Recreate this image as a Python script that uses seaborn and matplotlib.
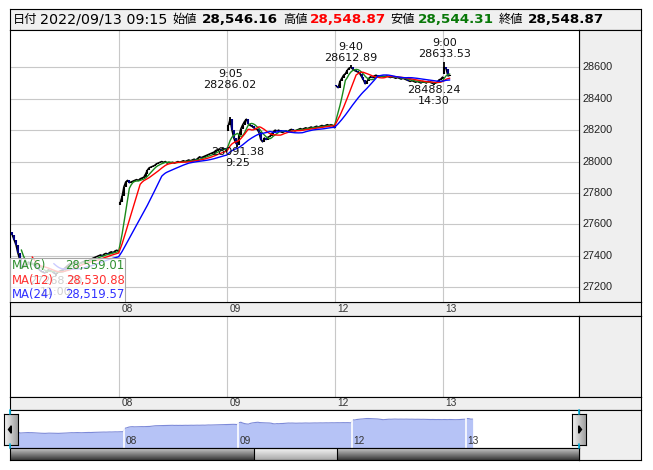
import numpy as np
import pandas as pd
import matplotlib
matplotlib.use("Agg")
import matplotlib.pyplot as plt
import seaborn as sns
from matplotlib.colors import LinearSegmentedColormap
from matplotlib.patches import Rectangle, Polygon
from matplotlib.lines import Line2D

# ---------------- data ----------------
day_labels = ["07", "08", "09", "12", "13"]
day_open = [27550, 27720, 28195, 28490, 28560]

close_07 = [27530, 27500, 27470, 27420, 27380, 27322, 27330, 27340, 27350, 27360,
            27350, 27352, 27340, 27330, 27320, 27310, 27300, 27295, 27290, 27300,
            27310, 27305, 27300, 27290, 27285, 27290, 27300, 27305, 27310, 27320,
            27330, 27340, 27350, 27345, 27355, 27360, 27350, 27345, 27355, 27360,
            27365, 27370, 27365, 27375, 27380, 27385, 27390, 27395, 27400, 27405,
            27400, 27410, 27415, 27410, 27420, 27425, 27420, 27430, 27435, 27430]
close_08 = [27740, 27780, 27840, 27870, 27880, 27865, 27870, 27875, 27880, 27885,
            27880, 27890, 27895, 27900, 27920, 27945, 27960, 27965, 27970, 27975,
            27985, 27990, 27995, 28000, 27995, 28000, 27990, 27995, 27990, 27995,
            27990, 27995, 28000, 27995, 28000, 28005, 28000, 28005, 28010, 28005,
            28010, 28015, 28010, 28020, 28030, 28025, 28030, 28035, 28040, 28045,
            28050, 28055, 28060, 28070, 28075, 28080, 28075, 28085, 28080, 28065]
close_09 = [28230, 28270, 28200, 28150, 28120, 28105, 28170, 28210, 28235, 28255,
            28270, 28240, 28230, 28225, 28215, 28210, 28205, 28185, 28140, 28125,
            28150, 28140, 28155, 28160, 28175, 28190, 28200, 28195, 28200, 28190,
            28185, 28190, 28195, 28190, 28200, 28205, 28200, 28195, 28200, 28205,
            28210, 28205, 28210, 28215, 28210, 28215, 28220, 28215, 28220, 28225,
            28220, 28225, 28230, 28225, 28230, 28235, 28230, 28235, 28230, 28215]
close_12 = [28480, 28470, 28510, 28530, 28550, 28560, 28580, 28595, 28600, 28590,
            28580, 28575, 28570, 28560, 28540, 28520, 28495, 28510, 28530, 28540,
            28535, 28545, 28550, 28545, 28540, 28545, 28540, 28540, 28545, 28540,
            28535, 28540, 28535, 28530, 28535, 28530, 28525, 28530, 28525, 28520,
            28515, 28510, 28515, 28510, 28505, 28510, 28505, 28500, 28510, 28505,
            28500, 28511, 28505, 28500, 28495, 28500, 28505, 28520, 28525, 28538]
close_13 = [28600, 28590, 28545, 28548.87]

ma_periods = [6, 12, 24]
ma_names = ["MA(6)", "MA(12)", "MA(24)"]
ma_values = ["28,559.01", "28,530.88", "28,519.57"]
ma_colors = ["#1a8a1a", "#ff0000", "#0000ff"]
ma_text_colors = ["#2f8f2f", "#ff3030", "#3030ff"]

y_ticks = [27200, 27400, 27600, 27800, 28000, 28200, 28400, 28600]

# annotations: (day index, bar index, value, time, kind)
ann_day = [0, 2, 2, 3, 3, 4]
ann_bar = [24, 1, 5, 8, 54, 0]
ann_value = [27268.70, 28286.02, 28091.38, 28612.89, 28488.24, 28633.53]
ann_time = ["11:00", "9:05", "9:25", "9:40", "14:30", "9:00"]
ann_kind = ["low", "high", "low", "high", "low", "high"]

hdr_names = ["日付", "始値", "高値", "安値", "終値"]
hdr_values = ["2022/09/13 09:15", "28,546.16", "28,548.87", "28,544.31", "28,548.87"]
hdr_colors = ["black", "black", "#ff0000", "#087808", "black"]

# ---------------- setup ----------------
sns.set_theme(style="white")
plt.rcParams["font.family"] = ["DejaVu Sans", "Noto Sans CJK JP"]

W, H = 653, 470
fig = plt.figure(figsize=(W / 100, H / 100), dpi=100)
fig.patch.set_facecolor("white")


def rect(x0, y0, x1, y1):
    return [x0 / W, 1 - y1 / H, (x1 - x0) / W, (y1 - y0) / H]


def panel(x0, y0, x1, y1, fc, z=0):
    ax = fig.add_axes(rect(x0, y0, x1, y1))
    ax.set_facecolor(fc)
    ax.set_xticks([])
    ax.set_yticks([])
    ax.set_zorder(z)
    for s in ax.spines.values():
        s.set_color("black")
        s.set_linewidth(0.8)
    return ax


def ftext(x, y, s, **kw):
    return fig.text(x / W, 1 - y / H, s, **kw)


GRAY = "#efefef"
GRID = "#c8c8c8"

# build series
xs, closes, days, opens = [], [], [], []
for d, arr in enumerate([close_07, close_08, close_09, close_12, close_13]):
    xs += [60 * d + i for i in range(len(arr))]
    closes += list(arr)
    days += [day_labels[d]] * len(arr)
    opens += [day_open[d]] + list(arr[:-1])
df = pd.DataFrame({"x": xs, "close": closes, "day": days, "open": opens})
for n, name in zip(ma_periods, ma_names):
    df[name] = df["close"].rolling(n).mean()
long = df.melt(id_vars="x", value_vars=ma_names, var_name="series", value_name="value").dropna()

boundaries = [60 * d - 0.5 for d in range(1, 5)]

# ---------------- header ----------------
hdr = panel(10, 8.5, 641, 29.5, "#f0f0f0")
name_x = [13, 172.5, 283, 390, 499]
val_x = [40.5, 202, 310, 418, 528]
for i in range(5):
    ftext(name_x[i], 19.5, hdr_names[i], fontsize=8.8, va="center", ha="left",
          family=["Noto Sans CJK JP"], color="black")
    ftext(val_x[i], 19.5, hdr_values[i], fontsize=10.3 if i == 0 else 9.7, va="center", ha="left",
          fontweight="normal" if i == 0 else "bold", color=hdr_colors[i])

# ---------------- main chart ----------------
main = panel(10, 29.5, 579, 302, "white", z=1)
XL = (-1.3, 314.8)
YL = (27105, 28841)
for v in y_ticks:
    main.axhline(v, color=GRID, lw=0.8, zorder=0)
for b in boundaries:
    main.axvline(b, color=GRID, lw=0.8, zorder=0)

# price: close line per day + candle bodies
sns.lineplot(data=df, x="x", y="close", units="day", estimator=None, color="black",
             lw=1.1, ax=main, zorder=2)
o = df["open"].values
c = df["close"].values
lo = np.minimum(o, c)
hi = np.maximum(np.maximum(o, c), lo + 5)
cols = np.where(c >= o, "black", "#000080")
main.vlines(df["x"], lo, hi, colors=cols, lw=1.5, zorder=3)
for d, b, v in zip(ann_day, ann_bar, ann_value):
    xi = 60 * d + b
    cv = df.loc[df["x"] == xi, "close"].values[0]
    main.vlines(xi, min(cv, v), max(cv, v), colors="black", lw=1.3, zorder=3)

sns.lineplot(data=long, x="x", y="value", hue="series", palette=dict(zip(ma_names, ma_colors)),
             ax=main, legend=False, lw=1.0, estimator=None, sort=False, zorder=4)
main.set_xlim(*XL)
main.set_ylim(*YL)
main.set_xlabel("")
main.set_ylabel("")
main.set_xticks([])
main.set_yticks([])

ann_offset = [0, 19, 0, 2, 0, 2]
for d, b, v, t, k, off in zip(ann_day, ann_bar, ann_value, ann_time, ann_kind, ann_offset):
    xi = 60 * d + b
    if k == "high":
        main.annotate(f"{t}\n{v:.2f}", xy=(xi, v), xytext=(0, off), textcoords="offset points",
                      ha="center", va="bottom", fontsize=8, linespacing=1.1, color="#111", zorder=6)
    else:
        main.annotate(f"{v:.2f}\n{t}", xy=(xi, v), xytext=(0, -off), textcoords="offset points",
                      ha="center", va="top", fontsize=8, linespacing=1.1, color="#111", zorder=6)

# legend box (semi-transparent, drawn over the chart)
main.add_patch(Rectangle((0, 0), 115 / 569, 44 / 272.5, transform=main.transAxes,
                         facecolor=(1, 1, 1, 0.8), edgecolor="#a8a8a8", lw=0.8, zorder=10))
for i in range(3):
    ftext(12, 266 + 14.3 * i, ma_names[i], fontsize=8.4, color=ma_text_colors[i], va="center", ha="left", zorder=20)
    ftext(124.5, 266 + 14.3 * i, ma_values[i], fontsize=8.4, color=ma_text_colors[i], va="center", ha="right", zorder=20)

# right axis panel
rp = panel(579, 29.5, 641, 302, GRAY)
rp.set_ylim(*YL)
for v in y_ticks:
    rp.text(0.06, v, f"{v}", transform=rp.get_yaxis_transform(), va="center", ha="left",
            fontsize=7.8, family=["Liberation Sans"], color="#222")

# strips
def xstrip(y0, y1):
    ax = panel(10, y0, 641, y1, GRAY)
    ax.set_xlim(XL[0], XL[0] + (XL[1] - XL[0]) * 631 / 569)
    ax.set_ylim(0, 1)
    for b, lab in zip(boundaries, day_labels[1:]):
        ax.annotate(lab, xy=(b, 0.5), xytext=(1.5, 0), textcoords="offset points", va="center",
                    ha="left", fontsize=7.3, family=["Liberation Sans"], color="#333")
    return ax

xstrip(302, 316)
vol = panel(10, 316, 579, 397, "white")
vol.set_xlim(*XL)
for b in boundaries:
    vol.axvline(b, color=GRID, lw=0.8)
panel(579, 316, 641, 397, GRAY)
xstrip(397, 410)

# navigator
panel(579, 410, 641, 460, GRAY)
nav = panel(10, 410, 579, 448, "white")
NXL = (-0.5, 299)
NYL = (26000, 29350)
nav.fill_between(df["x"], df["close"], NYL[0], color="#b6c3f6", lw=0)
sns.lineplot(x=df["x"], y=df["close"], ax=nav, color="#7d8ad8", lw=0.8, estimator=None)
for b, lab in zip(boundaries, day_labels[1:]):
    nav.axvline(b, color="white", lw=1.2)
    nav.annotate(lab, xy=(b, 0.04), xycoords=("data", "axes fraction"), xytext=(1, 0),
                 textcoords="offset points", va="bottom", ha="left", fontsize=7.3,
                 family=["Liberation Sans"], color="#333")
nav.set_xlim(*NXL)
nav.set_ylim(*NYL)
nav.set_xlabel("")
nav.set_ylabel("")
nav.set_xticks([])
nav.set_yticks([])

# scrollbar
sc = panel(10, 448, 579, 460, "#777777")
track = LinearSegmentedColormap.from_list("t", ["#3a3a3a", "#c8c8c8"])
sc.imshow(np.linspace(0, 1, 30)[:, None][::-1], aspect="auto", cmap=track, extent=[0, 1, 0, 1], origin="upper")
thumb = LinearSegmentedColormap.from_list("th", ["#a8a8a8", "#f6f6f6"])
t0, t1 = (254 - 10) / 569, (337 - 10) / 569
sc.imshow(np.linspace(0, 1, 30)[:, None][::-1], aspect="auto", cmap=thumb, extent=[t0, t1, 0, 1], origin="upper")
sc.add_patch(Rectangle((t0, 0), t1 - t0, 1, fill=False, ec="black", lw=0.8))
sc.set_xlim(0, 1)
sc.set_ylim(0, 1)

# buttons
btn_cmap = LinearSegmentedColormap.from_list("b", ["#f4f4f4", "#a0a0a0"])
for (bx0, bx1, direction) in [(4, 18, "left"), (572, 586, "right")]:
    bt = panel(bx0, 414, bx1, 445, "#dddddd", z=5)
    bt.imshow(np.linspace(0, 1, 20)[None, :], aspect="auto", cmap=btn_cmap, extent=[0, 1, 0, 1])
    if direction == "left":
        tri = [(0.32, 0.5), (0.52, 0.38), (0.52, 0.62)]
    else:
        tri = [(0.68, 0.5), (0.48, 0.38), (0.48, 0.62)]
    bt.add_patch(Polygon(tri, closed=True, color="black"))
    bt.set_xlim(0, 1)
    bt.set_ylim(0, 1)

# cyan selection marks
for xm in (10, 579):
    for (ya, yb) in ((410, 414), (444, 448)):
        fig.add_artist(Line2D([xm / W, xm / W], [1 - ya / H, 1 - yb / H], color="#00b4e0", lw=1.2, zorder=30))

fig.savefig("out.png", dpi=100, facecolor="white")
